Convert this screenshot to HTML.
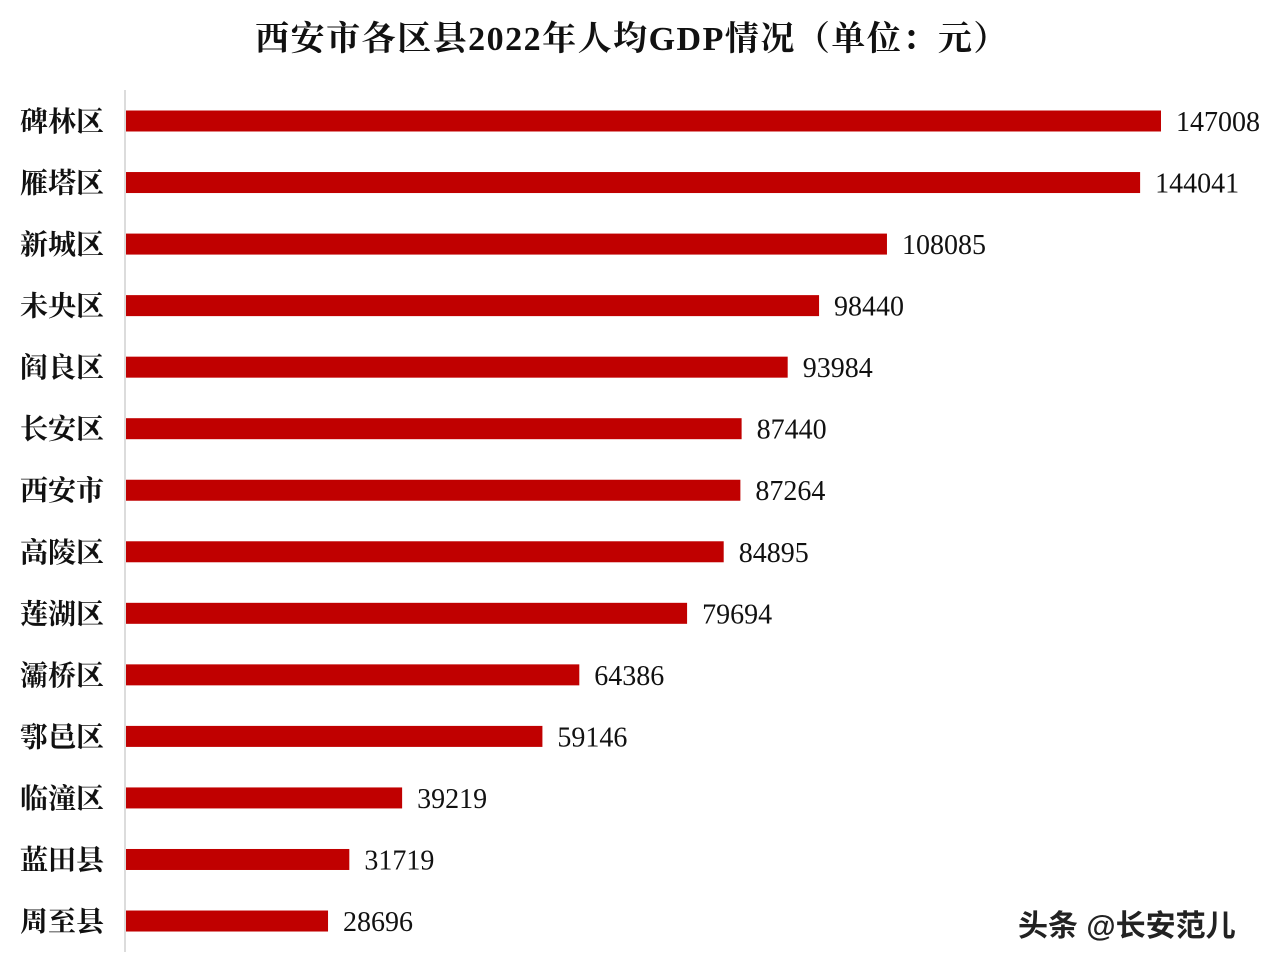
<!DOCTYPE html>
<html><head><meta charset="utf-8"><style>
html,body{margin:0;padding:0;background:#fff}
svg text{font-family:"Liberation Serif","Noto Serif CJK SC",serif}
</style></head><body>
<svg width="1280" height="968" viewBox="0 0 1280 968">
<rect x="0" y="0" width="1280" height="968" fill="#fff"/>
<text x="632" y="50" text-anchor="middle" font-size="34" font-weight="bold" letter-spacing="1.5" fill="#111">西安市各区县2022年人均GDP情况（单位：元）</text>
<line x1="125" y1="90" x2="125" y2="952" stroke="#d0d0d0" stroke-width="1.5"/>
<g id="bars"></g>
<text x="1018" y="936" font-size="30" font-weight="bold" fill="#222" style="font-family:'Liberation Sans','Noto Sans CJK SC',sans-serif">头条 @长安范儿</text>
</svg>
<script>
const categories=["碑林区","雁塔区","新城区","未央区","阎良区","长安区","西安市","高陵区","莲湖区","灞桥区","鄠邑区","临潼区","蓝田县","周至县"];
const values=[147008,144041,108085,98440,93984,87440,87264,84895,79694,64386,59146,39219,31719,28696];
const x0=126, xScale=v=>x0+v*(1035/147008);
const yBand=i=>121+i*61.54;
const g=document.getElementById('bars');
const ns="http://www.w3.org/2000/svg";
categories.forEach((c,i)=>{
  const y=yBand(i);
  const r=document.createElementNS(ns,'rect');
  r.setAttribute('x',x0);r.setAttribute('y',y-10.5);
  r.setAttribute('width',xScale(values[i])-x0);r.setAttribute('height',21);
  r.setAttribute('fill','#c00000');
  
  
  g.appendChild(r);
  const t=document.createElementNS(ns,'text');
  t.setAttribute('x',20);t.setAttribute('y',y+10);
  t.setAttribute('font-size','28');t.setAttribute('font-weight','bold');t.setAttribute('fill','#111');
  t.textContent=c;
  
  
  g.appendChild(t);
  const v=document.createElementNS(ns,'text');
  v.setAttribute('x',xScale(values[i])+15);v.setAttribute('y',y+10);
  v.setAttribute('font-size','28');v.setAttribute('fill','#111');
  v.textContent=values[i];
  
  
  g.appendChild(v);
});
</script>
</body></html>
